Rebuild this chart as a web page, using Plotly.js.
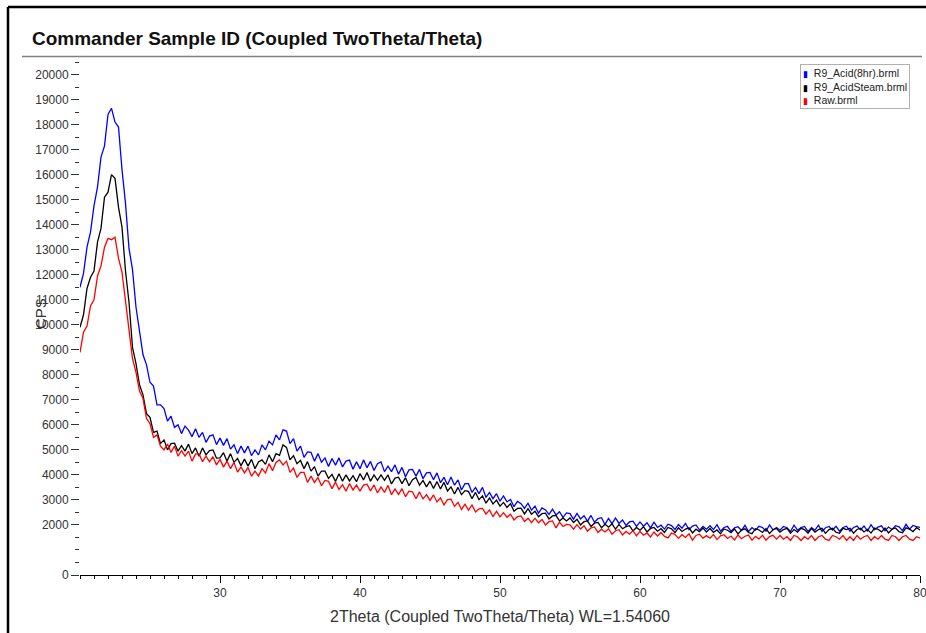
<!DOCTYPE html>
<html><head><meta charset="utf-8">
<script src="https://cdn.plot.ly/plotly-3.0.1.min.js"></script>
<style>html,body{margin:0;padding:0;background:#fff}#chart{width:926px;height:633px}</style>
</head><body><div id="chart"></div>
<script>
// 2Theta grid (degrees)
const twoTheta = [
20,20.25,20.5,20.75,21,21.25,21.5,21.75,22,22.25,22.5,22.75,23,23.25,23.5,23.75,24,24.25,24.5,24.75,
25,25.25,25.5,25.75,26,26.25,26.5,26.75,27,27.25,27.5,27.75,28,28.25,28.5,28.75,29,29.25,29.5,29.75,
30,30.25,30.5,30.75,31,31.25,31.5,31.75,32,32.25,32.5,32.75,33,33.25,33.5,33.75,34,34.25,34.5,34.75,
35,35.25,35.5,35.75,36,36.25,36.5,36.75,37,37.25,37.5,37.75,38,38.25,38.5,38.75,39,39.25,39.5,39.75,
40,40.25,40.5,40.75,41,41.25,41.5,41.75,42,42.25,42.5,42.75,43,43.25,43.5,43.75,44,44.25,44.5,44.75,
45,45.25,45.5,45.75,46,46.25,46.5,46.75,47,47.25,47.5,47.75,48,48.25,48.5,48.75,49,49.25,49.5,49.75,
50,50.25,50.5,50.75,51,51.25,51.5,51.75,52,52.25,52.5,52.75,53,53.25,53.5,53.75,54,54.25,54.5,54.75,
55,55.25,55.5,55.75,56,56.25,56.5,56.75,57,57.25,57.5,57.75,58,58.25,58.5,58.75,59,59.25,59.5,59.75,
60,60.25,60.5,60.75,61,61.25,61.5,61.75,62,62.25,62.5,62.75,63,63.25,63.5,63.75,64,64.25,64.5,64.75,
65,65.25,65.5,65.75,66,66.25,66.5,66.75,67,67.25,67.5,67.75,68,68.25,68.5,68.75,69,69.25,69.5,69.75,
70,70.25,70.5,70.75,71,71.25,71.5,71.75,72,72.25,72.5,72.75,73,73.25,73.5,73.75,74,74.25,74.5,74.75,
75,75.25,75.5,75.75,76,76.25,76.5,76.75,77,77.25,77.5,77.75,78,78.25,78.5,78.75,79,79.25,79.5,79.75,
80];

const seriesNames = ['R9_Acid(8hr).brml', 'R9_AcidSteam.brml', 'Raw.brml'];
const seriesColors = ['#0000ff', '#000000', '#ff0000'];

// CPS
const acid8hr = [
11500,12050,13100,13700,14750,15500,16700,17150,18400,18650,18100,17900,16200,14850,13050,12200,10700,9750,8800,8400,
7700,7550,6800,6800,6650,6150,6350,5900,6000,5650,5950,5790,5530,5840,5500,5700,5300,5550,5600,5210,
5470,5180,5450,5030,5200,4850,5150,4880,5150,4770,5000,4800,5200,5000,5350,5200,5600,5400,5800,5750,
5250,5450,4950,5150,4700,4920,4900,4550,4850,4510,4680,4340,4650,4390,4680,4320,4550,4590,4230,4520,
4250,4600,4290,4540,4180,4450,4520,4130,4350,4130,4400,4030,4300,3930,4200,4220,3950,4220,3850,4080,
4100,3810,4080,3690,3900,3610,3920,3590,3800,3400,3650,3650,3300,3500,3250,3500,3100,3300,3050,3250,
2950,3160,2920,3020,2730,2940,2850,2660,2870,2590,2750,2470,2680,2600,2420,2630,2400,2530,2300,2480,
2450,2230,2460,2240,2370,2150,2380,2110,2250,2290,2020,2260,2050,2280,2060,2200,1980,2120,2150,1940,
2120,1950,2090,1880,2110,1900,1990,1835,2030,1975,1820,2020,1870,2060,1810,1955,2000,1795,1940,1830,
1970,1815,2010,1755,1900,1945,1740,1885,1930,1782,1985,1738,1890,1792,1945,1898,1750,2000,1800,1898,
1790,1940,1890,1740,1990,1790,1890,1940,1740,1890,1790,1990,1740,1890,1940,1800,1950,1750,1900,1950,
1750,1900,1955,1805,1960,1760,2010,1810,1915,1965,1765,1915,1820,1970,1925,1775,2025,1830,1980,1935,
1900];

const acidSteam = [
9900,10400,11450,11900,12150,13300,13850,15100,15300,16000,15850,14700,13900,12150,10900,9100,8450,7600,7200,6450,
6300,5700,5750,5250,5400,5000,5250,5270,4950,5170,4950,5230,4850,5080,4750,5080,4800,4970,5000,4670,
4680,4890,4550,4850,4500,4660,4370,4630,4350,4620,4250,4520,4600,4420,4800,4530,4850,4780,5200,5100,
4600,4770,4450,4580,4250,4530,4150,4330,3950,4150,4150,3860,4020,3740,4050,3750,4000,3760,3970,3730,
4050,3800,4100,3750,4000,3780,4000,3780,4000,3640,3870,3910,3650,3890,3570,3810,3900,3590,3780,3520,
3750,3460,3730,3440,3700,3360,3520,3240,3500,3210,3370,3340,3050,3300,3010,3160,2870,3080,2840,2990,
2750,2900,2700,2850,2550,2660,2670,2440,2650,2430,2550,2330,2450,2470,2240,2360,2380,2160,2280,2160,
2280,2100,2230,2000,2130,2160,1940,2070,2100,1890,2030,1910,2050,1830,2020,1850,1930,1970,1760,1900,
1790,1930,1720,1860,1900,1750,1850,1700,1900,1845,1690,1890,1740,1835,1885,1680,1830,1728,1875,1720,
1860,1705,1800,1645,1840,1790,1690,1840,1640,1792,1845,1698,1650,1850,1800,1702,1855,1658,1810,1860,
1715,1815,1865,1665,1815,1715,1865,1815,1665,1865,1715,1815,1865,1665,1815,1865,1715,1665,1865,1815,
1870,1670,1820,1870,1720,1825,1675,1875,1825,1725,1880,1680,1830,1880,1730,1685,1885,1835,1735,1890,
1800];

const raw = [
8900,9700,9950,10750,11000,11950,12350,13100,13450,13400,13500,12650,12100,10900,9850,8650,8100,7350,7050,6250,
6050,5500,5600,5150,5000,5230,4900,5150,4750,4970,4750,4950,4550,4830,4850,4530,4750,4520,4730,4400,
4620,4310,4550,4250,4500,4110,4320,4080,4300,3950,4150,3960,4250,4080,4450,4170,4500,4600,4400,4550,
4100,4270,3900,4100,4100,3700,3950,3700,3900,3570,3780,3740,3450,3710,3420,3610,3350,3650,3400,3600,
3350,3590,3630,3360,3600,3280,3520,3300,3580,3210,3440,3220,3450,3130,3350,3320,3050,3320,3040,3210,
2980,3200,2920,3080,2800,3010,3030,2740,2900,2620,2830,2590,2800,2520,2640,2660,2430,2600,2330,2550,
2320,2490,2310,2430,2200,2330,2360,2140,2270,2090,2270,2090,2220,2000,2130,2160,1880,2110,1940,2020,
2000,1830,2010,1840,1970,1750,1880,1920,1700,1830,1720,1850,1630,1770,1810,1600,1740,1630,1770,1560,
1750,1590,1680,1520,1720,1560,1700,1540,1480,1675,1620,1465,1610,1500,1645,1390,1580,1628,1475,1572,
1470,1618,1415,1562,1610,1458,1555,1402,1600,1450,1548,1596,1394,1542,1440,1590,1388,1536,1584,1432,
1580,1430,1530,1380,1580,1530,1380,1530,1430,1580,1380,1530,1580,1430,1380,1580,1530,1430,1580,1380,
1530,1380,1580,1430,1530,1580,1380,1530,1430,1580,1430,1380,1580,1530,1380,1530,1580,1430,1380,1530,
1470];

const yTickVals = [0,2000,3000,4000,5000,6000,7000,8000,9000,10000,11000,12000,13000,14000,15000,16000,17000,18000,19000,20000];
const xTickVals = [30,40,50,60,70,80];

const chartTitle = 'Commander Sample ID (Coupled TwoTheta/Theta)';
const xTitle = '2Theta (Coupled TwoTheta/Theta) WL=1.54060';
const yTitle = 'CPS';

const FONT = 'Liberation Sans, Arial, sans-serif';
const allSeries = [acid8hr, acidSteam, raw];

const traces = allSeries.map((vals, i) => ({
  type: 'scatter', mode: 'lines', x: twoTheta, y: vals, name: seriesNames[i],
  line: {color: seriesColors[i], width: 1.3}, showlegend: false, hoverinfo: 'skip'
}));

const legendText = seriesNames.map((n, i) =>
  '<span style="color:' + seriesColors[i] + ';font-size:9px">▮</span>  ' + n).join('<br>');

const layout = {
  width: 926, height: 633,
  paper_bgcolor: '#ffffff', plot_bgcolor: '#ffffff',
  margin: {l: 80, r: 6, t: 62, b: 58},
  showlegend: false,
  font: {family: FONT, color: '#333333'},
  title: {text: '<b>' + chartTitle + '</b>', x: 32/926, xanchor: 'left', xref: 'container',
          y: 1 - 38/633, yanchor: 'middle', yref: 'container',
          font: {family: FONT, size: 19, color: '#111111'}},
  xaxis: {range: [20, 80], tickmode: 'array', tickvals: xTickVals, ticks: 'outside', ticklen: 7,
          tickcolor: '#000', tickwidth: 1, showline: true, linecolor: '#000', linewidth: 1,
          showgrid: false, zeroline: false, ticklabeloverflow: 'allow',
          minor: {dtick: 1, tick0: 0, ticklen: 3, tickcolor: '#000', ticks: 'outside', showgrid: false},
          tickfont: {family: FONT, size: 12, color: '#333'},
          title: {text: xTitle, font: {family: FONT, size: 16, color: '#333'}, standoff: 11}},
  xaxis2: {range: [20, 80], overlaying: 'x', anchor: 'y', side: 'bottom', dtick: 5, tick0: 0,
           ticks: 'outside', ticklen: 5, tickcolor: '#000', showticklabels: false,
           showline: false, showgrid: false, zeroline: false},
  yaxis: {range: [0, 20500], tickmode: 'array', tickvals: yTickVals, tickformat: 'd',
          ticks: 'outside', ticklen: 8, tickcolor: '#333', showline: false, showgrid: false, zeroline: false,
          minor: {dtick: 500, tick0: 0, ticklen: 4, tickcolor: '#333', ticks: 'outside', showgrid: false},
          tickfont: {family: FONT, size: 12, color: '#333'}},
  annotations: [
    {xref: 'paper', yref: 'paper', x: (40-80)/840, y: (575-314)/513, text: yTitle, textangle: -90,
     showarrow: false, font: {family: FONT, size: 15, color: '#333'}, xanchor: 'center', yanchor: 'middle'},
    {xref: 'paper', yref: 'paper', x: (800-80)/840, y: (575-64)/513, xanchor: 'left', yanchor: 'top',
     text: legendText, align: 'left', showarrow: false, bgcolor: '#ffffff',
     bordercolor: '#b0b0b0', borderwidth: 1, borderpad: 2,
     font: {family: FONT, size: 10.5, color: '#222'}}
  ],
  shapes: [
    {type: 'line', xref: 'paper', yref: 'paper', x0: -72/840, x1: -72/840, y0: 568/513, y1: -60/513,
     line: {color: '#000', width: 2.5}},
    {type: 'line', xref: 'paper', yref: 'paper', x0: -72/840, x1: 850/840, y0: 568/513, y1: 568/513,
     line: {color: '#000', width: 2.5}},
    {type: 'line', xref: 'paper', yref: 'paper', x0: -58/840, x1: 842/840, y0: 518.5/513, y1: 518.5/513,
     line: {color: '#808080', width: 1.5}}
  ]
};

Plotly.newPlot('chart', traces, layout, {displayModeBar: false, staticPlot: true});
</script>
</body></html>
